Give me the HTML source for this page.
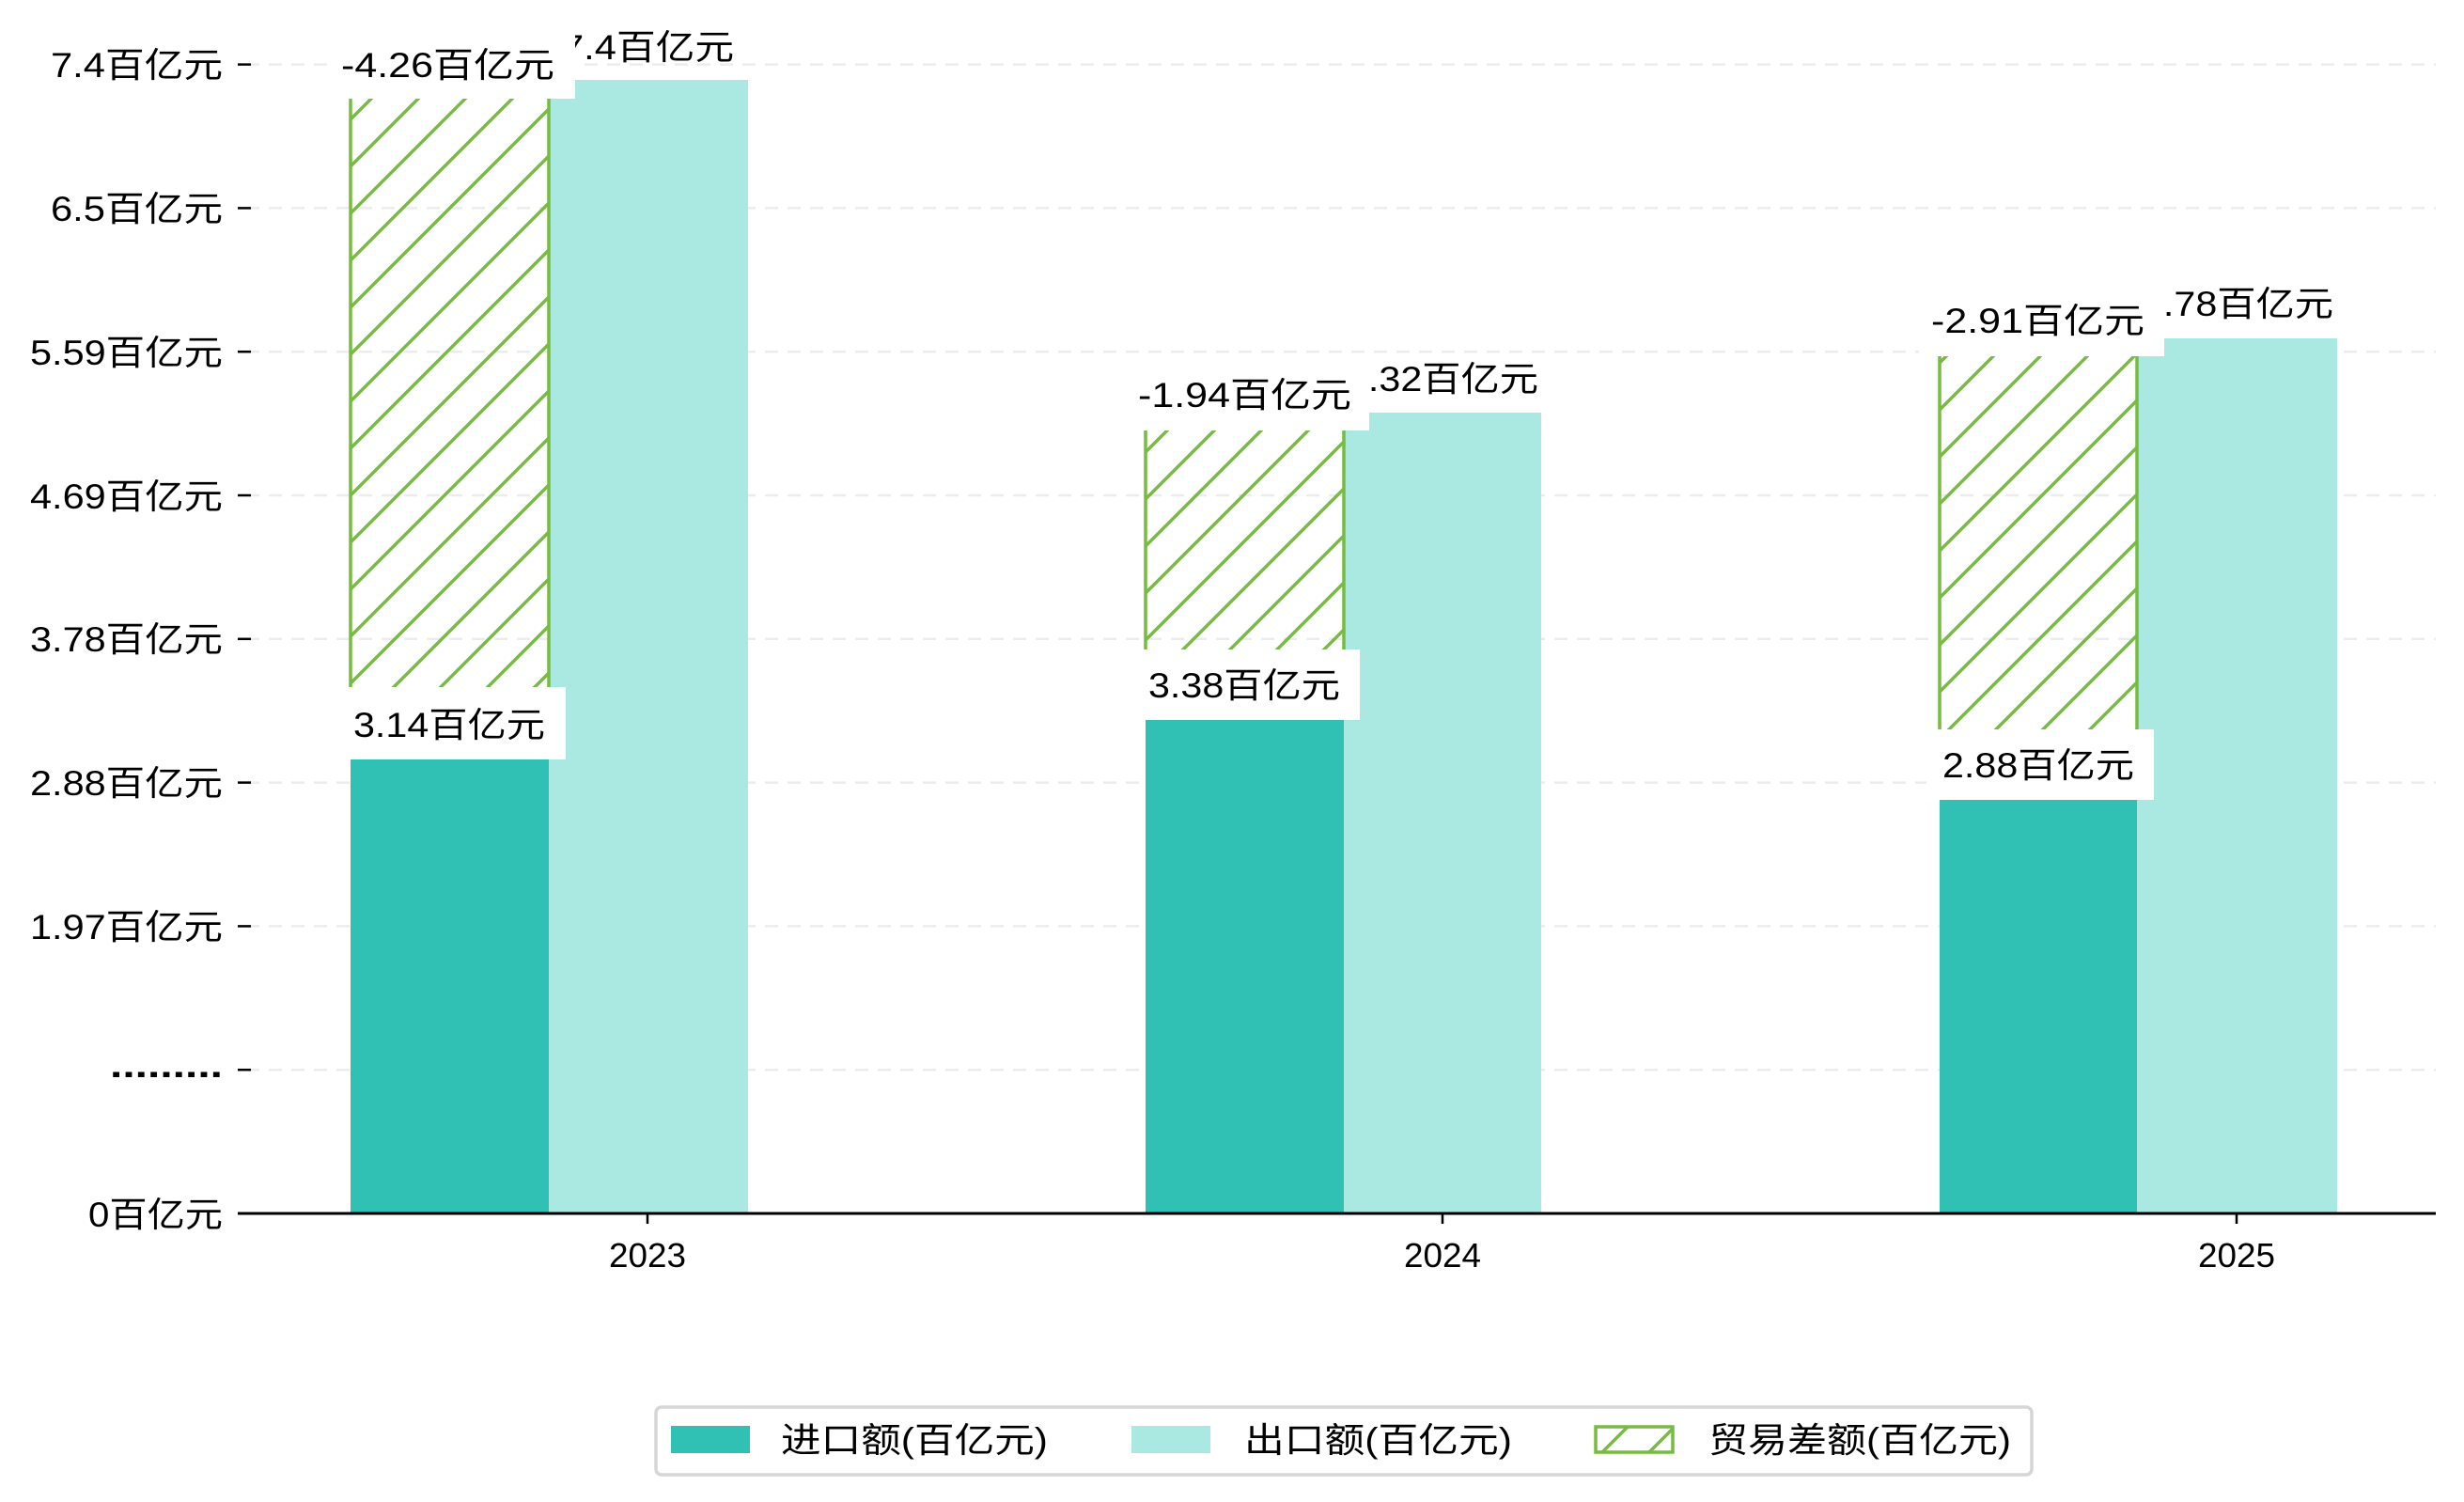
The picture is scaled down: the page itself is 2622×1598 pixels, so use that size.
<!DOCTYPE html>
<html><head><meta charset="utf-8"><style>
html,body{margin:0;padding:0;background:#fff;}
svg{display:block;}
text{font-family:"Liberation Sans","Noto Sans CJK SC",sans-serif;fill:#000;}
</style></head><body>
<svg width="2622" height="1598" viewBox="0 0 2622 1598" xmlns="http://www.w3.org/2000/svg">
<defs>
<pattern id="h" patternUnits="userSpaceOnUse" width="50" height="50">
<path d="M-10,10 L10,-10 M0,50 L50,0 M40,60 L60,40" stroke="#76bc3f" stroke-width="3.5"/>
</pattern>
</defs>
<g stroke="#ececec" stroke-width="2.5" stroke-dasharray="14,10">
<line x1="262" y1="68.6" x2="2592" y2="68.6"/>
<line x1="262" y1="221.4" x2="2592" y2="221.4"/>
<line x1="262" y1="374.2" x2="2592" y2="374.2"/>
<line x1="262" y1="527" x2="2592" y2="527"/>
<line x1="262" y1="679.8" x2="2592" y2="679.8"/>
<line x1="262" y1="832.6" x2="2592" y2="832.6"/>
<line x1="262" y1="985.4" x2="2592" y2="985.4"/>
<line x1="262" y1="1138.2" x2="2592" y2="1138.2"/>
</g>
<g stroke="#000" stroke-width="2.5">
<line x1="253" y1="68.6" x2="267" y2="68.6"/>
<line x1="253" y1="221.4" x2="267" y2="221.4"/>
<line x1="253" y1="374.2" x2="267" y2="374.2"/>
<line x1="253" y1="527" x2="267" y2="527"/>
<line x1="253" y1="679.8" x2="267" y2="679.8"/>
<line x1="253" y1="832.6" x2="267" y2="832.6"/>
<line x1="253" y1="985.4" x2="267" y2="985.4"/>
<line x1="253" y1="1138.2" x2="267" y2="1138.2"/>
</g>
<g font-size="37" text-anchor="end" lengthAdjust="spacingAndGlyphs">
<text x="237" y="82" textLength="183" lengthAdjust="spacingAndGlyphs">7.4百亿元</text>
<text x="237" y="235" textLength="183" lengthAdjust="spacingAndGlyphs">6.5百亿元</text>
<text x="237" y="388" textLength="205" lengthAdjust="spacingAndGlyphs">5.59百亿元</text>
<text x="237" y="541" textLength="205" lengthAdjust="spacingAndGlyphs">4.69百亿元</text>
<text x="237" y="693" textLength="205" lengthAdjust="spacingAndGlyphs">3.78百亿元</text>
<text x="237" y="846" textLength="205" lengthAdjust="spacingAndGlyphs">2.88百亿元</text>
<text x="237" y="999" textLength="205" lengthAdjust="spacingAndGlyphs">1.97百亿元</text>
<text x="237" y="1146" textLength="120" lengthAdjust="spacingAndGlyphs" font-weight="bold">.........</text>
<text x="237" y="1305" textLength="143" lengthAdjust="spacingAndGlyphs">0百亿元</text>
</g>
<rect x="373" y="808" width="211" height="483" fill="#30c0b4"/>
<rect x="584" y="85" width="212" height="1206" fill="#aae8e2"/>
<rect x="1219" y="766" width="211" height="525" fill="#30c0b4"/>
<rect x="1430" y="439" width="210" height="852" fill="#aae8e2"/>
<rect x="2064" y="851" width="210" height="440" fill="#30c0b4"/>
<rect x="2274" y="360" width="213" height="931" fill="#aae8e2"/>
<rect x="373" y="105" width="211" height="626" fill="url(#h)"/>
<line x1="373" y1="105" x2="373" y2="731" stroke="#76bc3f" stroke-width="3.5"/>
<line x1="584" y1="105" x2="584" y2="731" stroke="#76bc3f" stroke-width="3.5"/>
<rect x="1219" y="458" width="211" height="233" fill="url(#h)"/>
<line x1="1219" y1="458" x2="1219" y2="691" stroke="#76bc3f" stroke-width="3.5"/>
<line x1="1430" y1="458" x2="1430" y2="691" stroke="#76bc3f" stroke-width="3.5"/>
<rect x="2064" y="379" width="210" height="397" fill="url(#h)"/>
<line x1="2064" y1="379" x2="2064" y2="776" stroke="#76bc3f" stroke-width="3.5"/>
<line x1="2274" y1="379" x2="2274" y2="776" stroke="#76bc3f" stroke-width="3.5"/>
<g font-size="37">
<text x="598" y="63" textLength="183" lengthAdjust="spacingAndGlyphs">7.4百亿元</text>
<text x="1433" y="416" textLength="204" lengthAdjust="spacingAndGlyphs">5.32百亿元</text>
<text x="2279" y="336" textLength="204" lengthAdjust="spacingAndGlyphs">5.78百亿元</text>
</g>
<g fill="#fff">
<rect x="356" y="28" width="256" height="77"/>
<rect x="365" y="731" width="237" height="77"/>
<rect x="1194" y="381" width="263" height="77"/>
<rect x="1204" y="691" width="243" height="75"/>
<rect x="2042" y="303" width="261" height="76"/>
<rect x="2050" y="776" width="242" height="75"/>
</g>
<g font-size="37">
<text x="363" y="82" textLength="227" lengthAdjust="spacingAndGlyphs">-4.26百亿元</text>
<text x="376" y="784" textLength="204" lengthAdjust="spacingAndGlyphs">3.14百亿元</text>
<text x="1211" y="433" textLength="227" lengthAdjust="spacingAndGlyphs">-1.94百亿元</text>
<text x="1222" y="742" textLength="204" lengthAdjust="spacingAndGlyphs">3.38百亿元</text>
<text x="2055" y="354" textLength="227" lengthAdjust="spacingAndGlyphs">-2.91百亿元</text>
<text x="2067" y="827" textLength="204" lengthAdjust="spacingAndGlyphs">2.88百亿元</text>
</g>
<line x1="253" y1="1291" x2="2592" y2="1291" stroke="#000" stroke-width="3"/>
<g stroke="#000" stroke-width="2.5">
<line x1="689" y1="1291" x2="689" y2="1302"/>
<line x1="1535" y1="1291" x2="1535" y2="1302"/>
<line x1="2380" y1="1291" x2="2380" y2="1302"/>
</g>
<g font-size="36" text-anchor="middle">
<text x="689" y="1348" textLength="82" lengthAdjust="spacingAndGlyphs">2023</text>
<text x="1535" y="1348" textLength="82" lengthAdjust="spacingAndGlyphs">2024</text>
<text x="2380" y="1348" textLength="82" lengthAdjust="spacingAndGlyphs">2025</text>
</g>
<rect x="698" y="1497" width="1464" height="72" rx="6" fill="#fff" stroke="#d6d6d6" stroke-width="3.5"/>
<rect x="714" y="1517" width="84" height="29" fill="#30c0b4"/>
<rect x="1204" y="1517" width="84" height="29" fill="#aae8e2"/>
<rect x="1698" y="1518" width="82" height="27" fill="url(#h)" stroke="#76bc3f" stroke-width="3.5"/>
<g font-size="37">
<text x="831" y="1545" textLength="284" lengthAdjust="spacingAndGlyphs">进口额(百亿元)</text>
<text x="1324" y="1545" textLength="285" lengthAdjust="spacingAndGlyphs">出口额(百亿元)</text>
<text x="1818" y="1545" textLength="322" lengthAdjust="spacingAndGlyphs">贸易差额(百亿元)</text>
</g>
</svg>
</body></html>
